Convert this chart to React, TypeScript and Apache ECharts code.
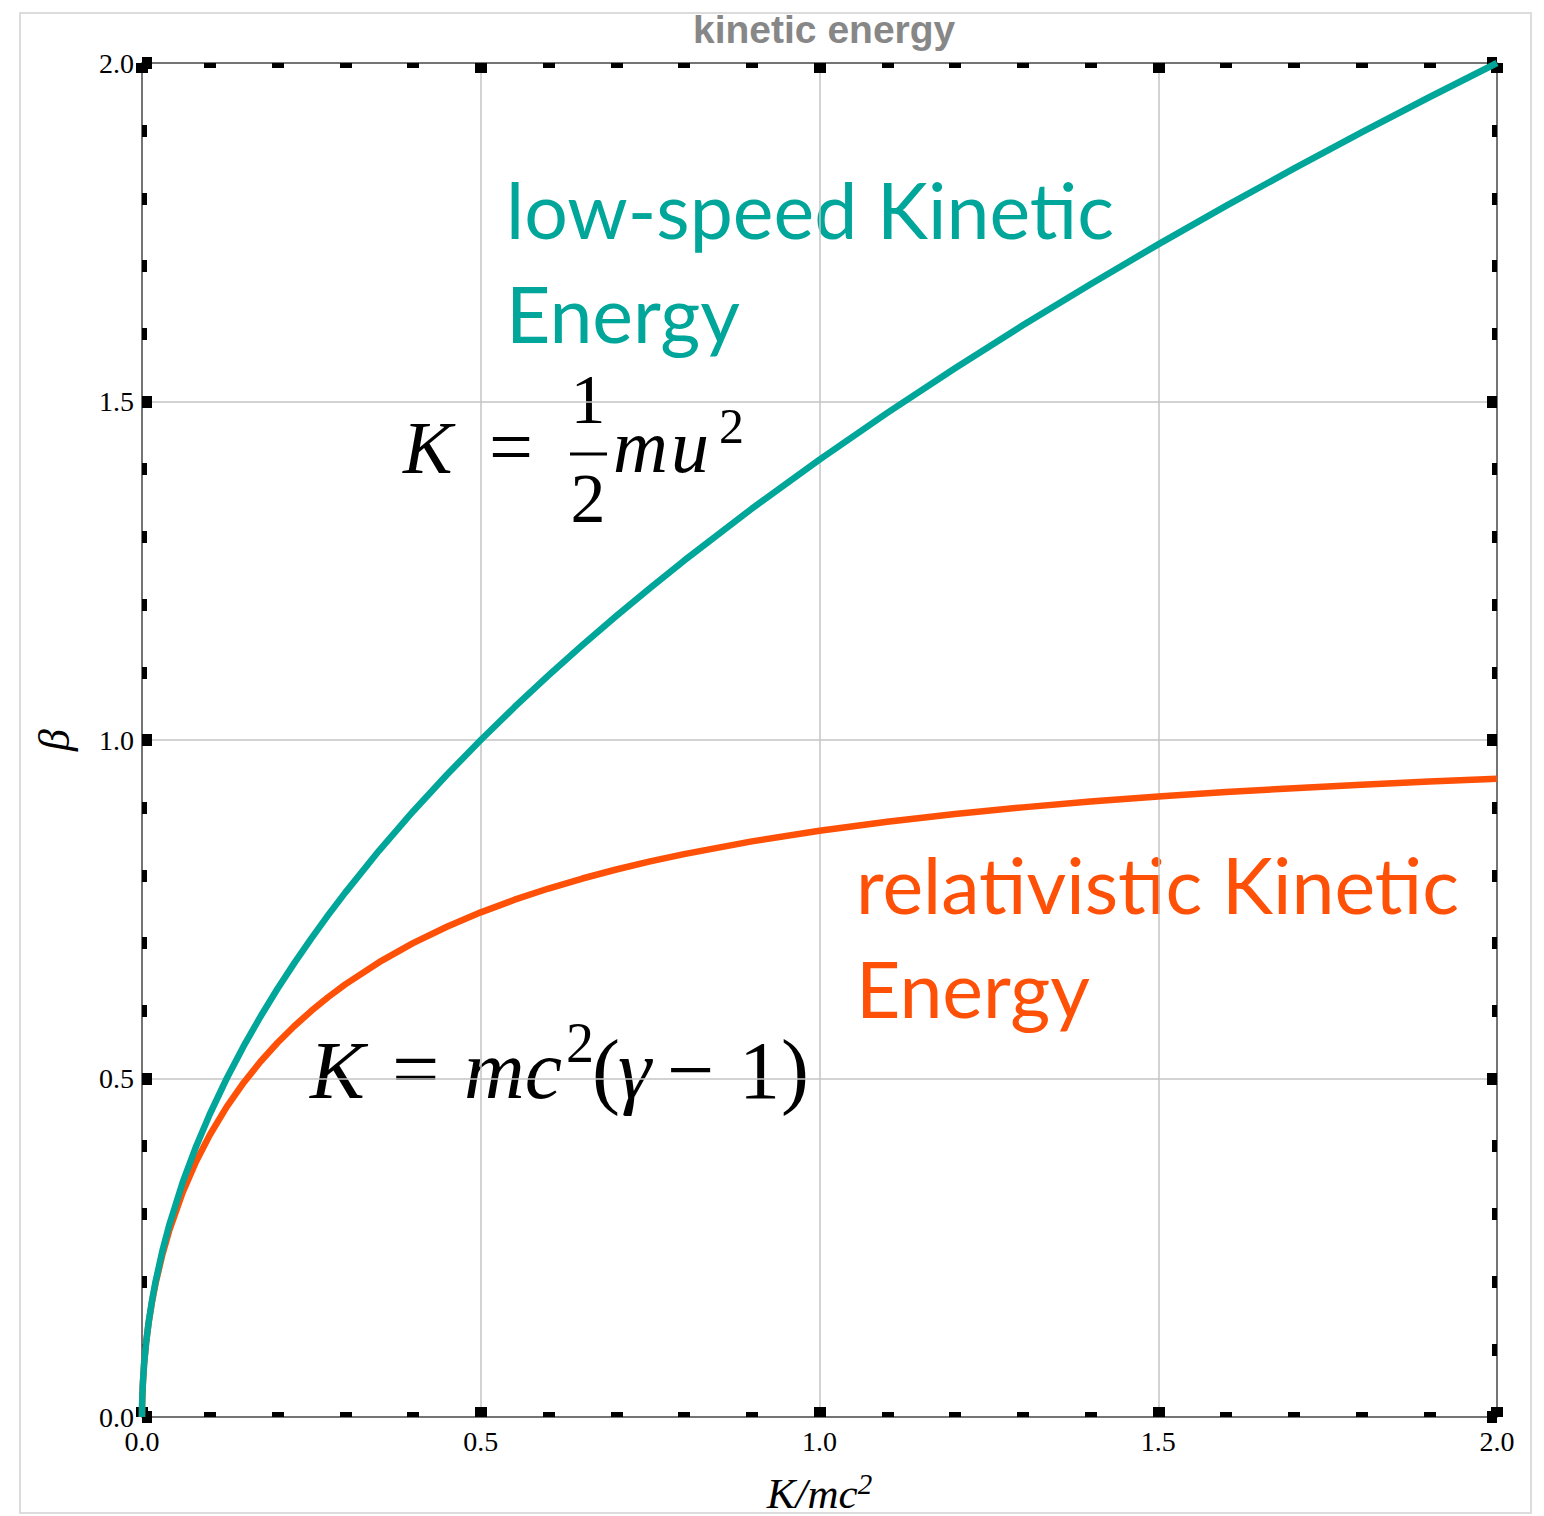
import React, { useEffect, useRef } from "react";
import * as echarts from "echarts";

const kValues = [0, 0.0002, 0.001, 0.003, 0.006, 0.01, 0.015, 0.02, 0.03, 0.04, 0.06, 0.08, 0.1, 0.125, 0.15, 0.175, 0.2, 0.225, 0.25, 0.275, 0.3, 0.35, 0.4, 0.45, 0.5, 0.55, 0.6, 0.65, 0.7, 0.75, 0.8, 0.9, 1.0, 1.1, 1.2, 1.3, 1.4, 1.5, 1.6, 1.7, 1.8, 1.9, 2.0];
const betaLowSpeed = [0, 0.02, 0.0447, 0.0775, 0.1095, 0.1414, 0.1732, 0.2, 0.2449, 0.2828, 0.3464, 0.4, 0.4472, 0.5, 0.5477, 0.5916, 0.6325, 0.6708, 0.7071, 0.7416, 0.7746, 0.8367, 0.8944, 0.9487, 1.0, 1.0488, 1.0954, 1.1402, 1.1832, 1.2247, 1.2649, 1.3416, 1.4142, 1.4832, 1.5492, 1.6125, 1.6733, 1.7321, 1.7889, 1.8439, 1.8974, 1.9494, 2.0];
const betaRelativistic = [0, 0.02, 0.0447, 0.0773, 0.1091, 0.1404, 0.1713, 0.1971, 0.2396, 0.2747, 0.3317, 0.3777, 0.4166, 0.4581, 0.4938, 0.5251, 0.5528, 0.5776, 0.6, 0.6204, 0.639, 0.6718, 0.6999, 0.7241, 0.7454, 0.7641, 0.7806, 0.7954, 0.8087, 0.8207, 0.8315, 0.8503, 0.866, 0.8793, 0.8907, 0.9005, 0.9091, 0.9165, 0.9231, 0.9289, 0.934, 0.9387, 0.9428];

const titleText = "kinetic energy";
const lowSpeedLabel = ["low-speed Kinetic", "Energy"];
const relativisticLabel = ["relativistic Kinetic", "Energy"];

const TEAL = "#00a699";
const ORANGE = "#ff5008";
const SERIF = "'Liberation Serif', 'Times New Roman', serif";
const SANS_LABEL = "Lato, 'Open Sans', sans-serif";

function txt(text: string, x: number, baseline: number, size: number, opts: any = {}) {
  return {
    type: "text",
    x,
    y: baseline - size * 0.34,
    silent: true,
    style: {
      text,
      fontSize: size,
      fontFamily: opts.family || SERIF,
      fontStyle: opts.italic ? "italic" : "normal",
      fontWeight: opts.weight || "normal",
      fill: opts.color || "#000",
      textAlign: opts.align || "left",
      textVerticalAlign: "middle",
      verticalAlign: "middle",
    },
  };
}

export default function App() {
  const ref = useRef<HTMLDivElement>(null);
  useEffect(() => {
    if (!ref.current) return;
    const chart = echarts.init(ref.current, null, { renderer: "svg" });
    const lowData = kValues.map((k, i) => [k, betaLowSpeed[i]]);
    const relData = kValues.map((k, i) => [k, betaRelativistic[i]]);

    const baseAxis = {
      type: "value",
      min: 0,
      max: 2,
      interval: 0.5,
      axisLine: { show: true, onZero: false, lineStyle: { color: "#555", width: 1.5 } },
      axisTick: { show: true, inside: true, length: 10, lineStyle: { color: "#000", width: 12 } },
      minorTick: { show: true, splitNumber: 5, length: 5, lineStyle: { color: "#000", width: 12 } },
    };

    const option: any = {
      animation: false,
      backgroundColor: "#fff",
      title: {
        text: titleText,
        left: 688,
        top: 5,
        textStyle: { fontSize: 39, fontWeight: "bold", color: "#878787", fontFamily: "'Liberation Sans', Arial, sans-serif" },
      },
      grid: { left: 142, top: 63, width: 1355, height: 1354, containLabel: false, outerBoundsMode: "none" },
      xAxis: [
        {
          ...baseAxis,
          position: "bottom",
          splitLine: { show: true, lineStyle: { color: "#c4c4c4", width: 1.5 } },
          axisLabel: { show: true, fontFamily: SERIF, fontSize: 28, color: "#000", margin: 10, formatter: (v: number) => v.toFixed(1) },
          name: "{i|K/mc}{s|2}",
          nameLocation: "middle",
          nameGap: 52,
          nameTextStyle: {
            rich: {
              i: { fontFamily: SERIF, fontStyle: "italic", fontSize: 43, color: "#000" },
              s: { fontFamily: SERIF, fontStyle: "italic", fontSize: 29, color: "#000", padding: [0, 0, 19, 0] },
            },
          },
        },
        {
          ...baseAxis,
          position: "top",
          splitLine: { show: false },
          axisLabel: { show: false },
        },
      ],
      yAxis: [
        {
          ...baseAxis,
          position: "left",
          splitLine: { show: true, lineStyle: { color: "#c4c4c4", width: 1.5 } },
          axisLabel: { show: true, fontFamily: SERIF, fontSize: 28, color: "#000", margin: 8, formatter: (v: number) => v.toFixed(1) },
          name: "β",
          nameLocation: "middle",
          nameRotate: 90,
          nameGap: 66,
          nameTextStyle: { fontFamily: SERIF, fontStyle: "italic", fontSize: 44, color: "#000" },
        },
        {
          ...baseAxis,
          position: "right",
          splitLine: { show: false },
          axisLabel: { show: false },
        },
      ],
      series: [
        {
          name: "relativistic",
          type: "line",
          xAxisIndex: 0,
          yAxisIndex: 0,
          data: relData,
          smooth: false,
          showSymbol: false,
          lineStyle: { color: ORANGE, width: 6.5, join: "round" },
          z: 3,
        },
        {
          name: "low-speed",
          type: "line",
          xAxisIndex: 0,
          yAxisIndex: 0,
          data: lowData,
          smooth: false,
          showSymbol: false,
          lineStyle: { color: TEAL, width: 6.5, join: "round" },
          z: 4,
        },
      ],
      graphic: [
        {
          type: "rect",
          silent: true,
          z: -10,
          shape: { x: 20, y: 13, width: 1511, height: 1500 },
          style: { fill: "none", stroke: "#dcdcdc", lineWidth: 2 },
        },
        // annotations
        txt(lowSpeedLabel[0], 506, 235, 77, { family: SANS_LABEL, color: TEAL }),
        txt(lowSpeedLabel[1], 506, 339, 77, { family: SANS_LABEL, color: TEAL }),
        txt(relativisticLabel[0], 856, 910, 77, { family: SANS_LABEL, color: ORANGE }),
        txt(relativisticLabel[1], 856, 1014, 77, { family: SANS_LABEL, color: ORANGE }),
        // K = 1/2 m u^2
        txt("K", 403, 473, 74, { italic: true }),
        txt("=", 489, 473, 78),
        txt("1", 588, 423, 70, { align: "center" }),
        { type: "line", silent: true, shape: { x1: 570, y1: 454, x2: 607, y2: 454 }, style: { stroke: "#000", lineWidth: 3 } },
        txt("2", 588, 522, 70, { align: "center" }),
        txt("m", 613, 472, 76, { italic: true }),
        txt("u", 671, 472, 76, { italic: true }),
        txt("2", 719, 443, 50),
        // K = mc^2 (gamma - 1)
        txt("K", 310, 1098, 82, { italic: true }),
        txt("=", 392, 1098, 84),
        txt("mc", 464, 1098, 84, { italic: true }),
        txt("2", 566, 1062, 56),
        txt("(", 592, 1098, 84),
        txt("γ", 618, 1098, 84, { italic: true }),
        txt("−", 667, 1098, 84),
        txt("1", 739, 1098, 82),
        txt(")", 781, 1098, 84),
      ],
    };
    chart.setOption(option);
    return () => chart.dispose();
  }, []);
  return <div ref={ref} style={{ position: "absolute", left: 0, top: 0, width: 1544, height: 1516 }} />;
}
